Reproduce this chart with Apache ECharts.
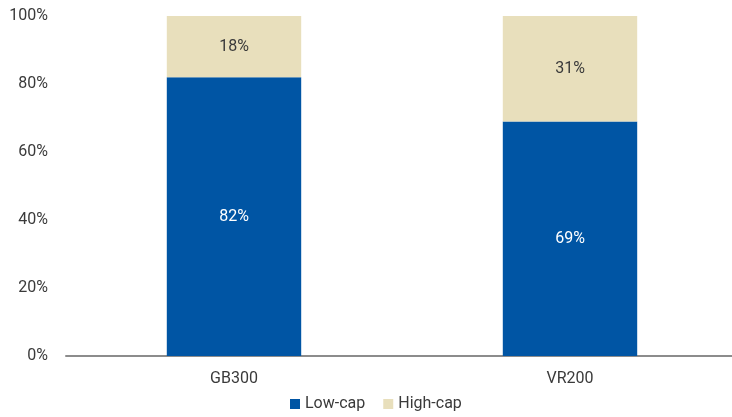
<!DOCTYPE html>
<html><head><meta charset="utf-8">
<script src="https://cdn.jsdelivr.net/npm/echarts@6/dist/echarts.min.js"></script>
<style>html,body{margin:0;padding:0;background:#fff}#c{width:732px;height:417px}</style>
</head><body><div id="c"></div>
<script>
const categories = ["GB300", "VR200"];
const lowCap = [82, 69];
const highCap = [18, 31];
const yTicks = [0, 20, 40, 60, 80, 100];

const chart = echarts.init(document.getElementById('c'), null, {renderer: 'canvas'});
const font = 'Roboto, sans-serif';
const fs = 16;
chart.setOption({
  animation: false,
  textStyle: {fontFamily: font},
  grid: {left: 66, width: 672, top: 16, bottom: 61, outerBoundsMode: 'none', containLabel: false},
  legend: {
    bottom: 0, left: 285, itemWidth: 10, itemHeight: 10, itemGap: 18,
    icon: 'rect',
    textStyle: {fontFamily: font, fontSize: fs, color: '#3a3a3a'},
    data: ['Low-cap', 'High-cap']
  },
  xAxis: {
    type: 'category', data: categories,
    axisLine: {lineStyle: {color: '#8c8c8c', width: 2}},
    axisTick: {show: false},
    axisLabel: {fontFamily: font, fontSize: fs, color: '#3a3a3a', margin: 15}
  },
  yAxis: {
    type: 'value', min: 0, max: 100, interval: 20,
    splitLine: {show: false},
    axisLine: {show: false}, axisTick: {show: false},
    axisLabel: {fontFamily: font, fontSize: fs, color: '#3a3a3a', margin: 18,
      formatter: v => yTicks.includes(v) ? v + '%' : ''}
  },
  series: [
    {name: 'Low-cap', type: 'bar', stack: 's', data: lowCap, barWidth: '40%',
     itemStyle: {color: '#0055A4'},
     label: {show: true, position: 'inside', color: '#fff', fontSize: fs, fontFamily: font, formatter: p => p.value + '%'}},
    {name: 'High-cap', type: 'bar', stack: 's', data: highCap, barWidth: '40%',
     itemStyle: {color: '#E8DFBC'},
     label: {show: true, position: 'inside', color: '#3a3a3a', fontSize: fs, fontFamily: font, formatter: p => p.value + '%'}}
  ]
});
</script></body></html>
